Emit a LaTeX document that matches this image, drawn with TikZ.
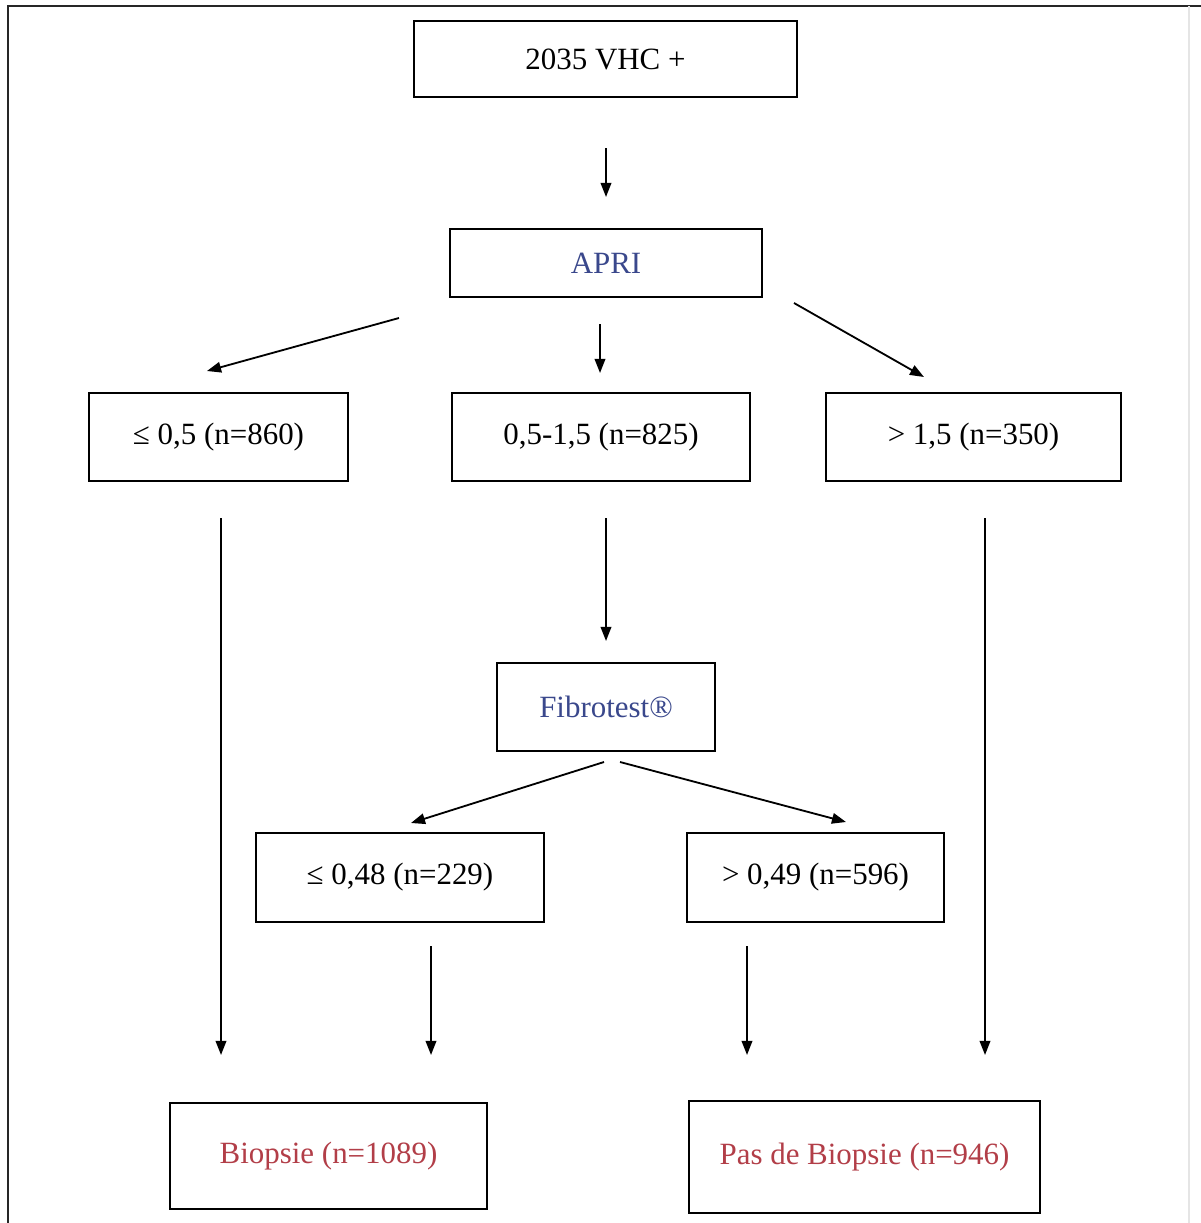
\documentclass[tikz,border=0pt]{standalone}
\usepackage{fontspec}
\setmainfont{Liberation Serif}
\usetikzlibrary{arrows.meta}
\definecolor{bluetxt}{RGB}{58,72,140}
\definecolor{redtxt}{RGB}{178,62,72}
\tikzset{
  box/.style={draw=black, line width=1.4pt, fill=white, inner sep=0pt,
    font=\fontsize{22}{26}\selectfont},
  arr/.style={line width=1.3pt, -{Triangle[length=10pt,width=7.5pt]}}
}
\begin{document}
\begin{tikzpicture}[x=0.025cm,y=-0.025cm]
\useasboundingbox (0,0) rectangle (1201,1223);
\fill[white] (0,0) rectangle (1201,1223);
% frame
\draw[line width=1.6pt, black!85] (8,1223) -- (8,6) -- (1201,6);
\draw[line width=0.8pt, black!10] (1189,6) -- (1189,1223);
% boxes
\node[box, minimum width=9.575cm, minimum height=1.9cm] (top) at (605.5,59) {2035 VHC +};
\node[box, minimum width=7.8cm, minimum height=1.7cm, text=bluetxt] (apri) at (606,263) {APRI};
\node[box, minimum width=6.475cm, minimum height=2.2cm] (a1) at (218.5,437) {≤ 0,5 (n=860)};
\node[box, minimum width=7.45cm, minimum height=2.2cm] (a2) at (601,437) {0,5-1,5 (n=825)};
\node[box, minimum width=7.375cm, minimum height=2.2cm] (a3) at (973.5,437) {> 1,5 (n=350)};
\node[box, minimum width=5.45cm, minimum height=2.2cm, text=bluetxt] (fib) at (606,707) {Fibrotest®};
\node[box, minimum width=7.2cm, minimum height=2.225cm] (f1) at (400,877.5) {≤ 0,48 (n=229)};
\node[box, minimum width=6.425cm, minimum height=2.225cm] (f2) at (815.5,877.5) {> 0,49 (n=596)};
\node[box, minimum width=7.925cm, minimum height=2.65cm, text=redtxt] (bio) at (328.5,1156) {Biopsie (n=1089)};
\node[box, minimum width=8.775cm, minimum height=2.8cm, text=redtxt] (pbio) at (864.5,1157) {Pas de Biopsie (n=946)};
% arrow end points
\coordinate (t1) at (606,148); \coordinate (t2) at (606,197);
\coordinate (p1s) at (399,318); \coordinate (p1e) at (207,371);
\coordinate (p2s) at (600,324); \coordinate (p2e) at (600,373);
\coordinate (p3s) at (794,303); \coordinate (p3e) at (924,377);
\coordinate (l1s) at (221,518); \coordinate (l1e) at (221,1055);
\coordinate (m1s) at (606,518); \coordinate (m1e) at (606,641);
\coordinate (r1s) at (985,518); \coordinate (r1e) at (985,1055);
\coordinate (q1s) at (604,762); \coordinate (q1e) at (411,823);
\coordinate (q2s) at (620,762); \coordinate (q2e) at (846,822);
\coordinate (g1s) at (431,946); \coordinate (g1e) at (431,1055);
\coordinate (g2s) at (747,946); \coordinate (g2e) at (747,1055);
% arrows
\draw[arr] (t1) -- (t2);
\draw[arr] (p1s) -- (p1e);
\draw[arr] (p2s) -- (p2e);
\draw[arr] (p3s) -- (p3e);
\draw[arr] (l1s) -- (l1e);
\draw[arr] (m1s) -- (m1e);
\draw[arr] (r1s) -- (r1e);
\draw[arr] (q1s) -- (q1e);
\draw[arr] (q2s) -- (q2e);
\draw[arr] (g1s) -- (g1e);
\draw[arr] (g2s) -- (g2e);
\end{tikzpicture}
\end{document}
